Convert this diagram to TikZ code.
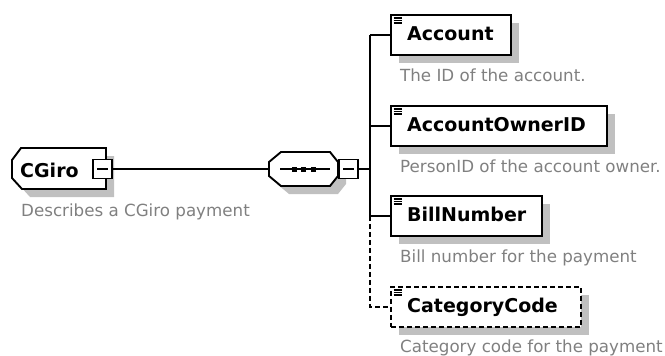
\documentclass[tikz,border=0pt]{standalone}
\usepackage{fontspec}
\setmainfont{DejaVu Sans}
\usetikzlibrary{shadows}
\definecolor{desctext}{RGB}{128,128,128}
\definecolor{shadegray}{RGB}{192,192,192}
\tikzset{
  outline/.style={draw=black, line width=1.9pt, line join=miter},
  conn/.style={draw=black, line width=1.8pt},
  optconn/.style={conn, dash pattern=on 5pt off 3pt},
  shade8/.style={drop shadow={shadow xshift=8pt, shadow yshift=-8pt, fill=shadegray, opacity=1}},
  elembox/.style={outline, fill=white, rectangle, inner sep=0pt, minimum height=40pt, anchor=north west, shade8},
  optbox/.style={elembox, dash pattern=on 5pt off 3pt},
  elname/.style={inner sep=0pt, anchor=base west, font=\fontsize{19}{22}\selectfont\bfseries},
  eldesc/.style={inner sep=0pt, anchor=base west, text=desctext, font=\fontsize{16.7}{20}\selectfont},
  minusbox/.style={outline, line width=1.6pt, fill=white, rectangle, inner sep=0pt, minimum size=19pt,
    path picture={\draw[line width=1.5pt] ([xshift=-5.5pt]path picture bounding box.center) -- ([xshift=5.5pt]path picture bounding box.center);}},
  iconline/.style={line width=1.2pt},
}
% three-line element icon in the top left corner of a box
\newcommand\elicon[1]{%
  \foreach \dy in {4,6.5,9}{\draw[iconline] ([shift={(3.5,\dy)}]#1.north west) -- ++(8,0);}}
\begin{document}
\begin{tikzpicture}[x=1pt, y=-1pt]
\useasboundingbox (0,0) rectangle (665,356);

% root element CGiro
\draw[outline, fill=white, shade8] (21,148) -- (106,148) -- (106,189) -- (22,189) -- (12,178) -- (12,160) -- cycle;
\node[elname] (rootname) at (20,177) {CGiro};
\node[minusbox] (rootminus) at (102.5,169) {};
\node[eldesc] (rootdesc) at (21,216) {Describes a CGiro payment};

% sequence compositor
\draw[outline, fill=white, shade8] (281,152) -- (330,152) -- (338,162) -- (338,176) -- (330,186) -- (281,186) -- (269,176) -- (269,162) -- cycle;
\coordinate (seqin) at (269,169);
\draw[line width=1.6pt] (280,169) -- (330,169);
\foreach \cx in {294,303.5,313} \fill (\cx-2.5,166.5) rectangle (\cx+2.5,171.5);
\node[minusbox] (seqminus) at (348.5,169) {};
\coordinate (fork) at (370,169);

\draw[conn] (rootminus.east) -- (seqin);
\draw[conn] (seqminus.east) -- (fork);

% child elements
\node[elembox, minimum width=120pt] (acc) at (390,14) {};
\node[elembox, minimum width=216pt] (own) at (390,105) {};
\node[elembox, minimum width=151pt] (bill) at (390,195) {};
\node[optbox, minimum width=190pt] (cat) at (390,286) {};

\draw[conn] (fork |- acc.west) -- (fork |- bill.west);
\draw[optconn] (fork |- bill.west) -- (fork |- cat.west) -- (cat.west);
\foreach \n in {acc,own,bill} \draw[conn] (fork |- \n.west) -- (\n.west);

\elicon{acc}
\elicon{own}
\elicon{bill}
\elicon{cat}

\node[elname] (accname) at (407,40.5) {Account};
\node[elname] (ownname) at (407,131.5) {AccountOwnerID};
\node[elname] (billname) at (407,221.5) {BillNumber};
\node[elname] (catname) at (407,312.5) {CategoryCode};

\node[eldesc] (accdesc) at (400,81) {The ID of the account.};
\node[eldesc] (owndesc) at (400,172) {PersonID of the account owner.};
\node[eldesc] (billdesc) at (400,262) {Bill number for the payment};
\node[eldesc] (catdesc) at (400,352) {Category code for the payment};
\end{tikzpicture}
\end{document}
